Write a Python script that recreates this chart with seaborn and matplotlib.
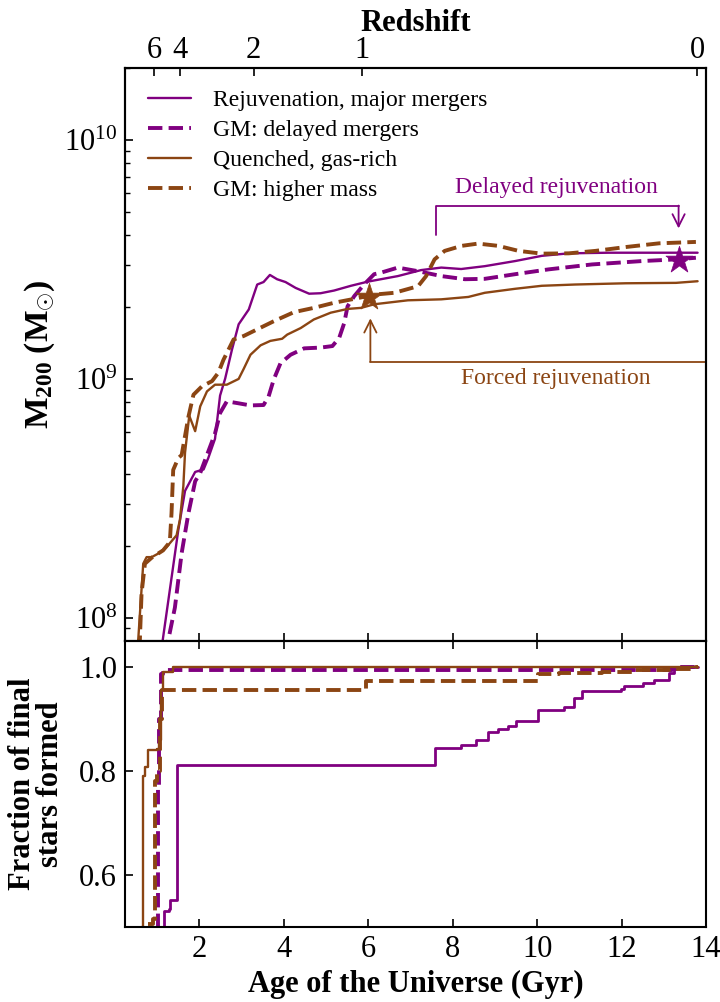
import numpy as np
import pandas as pd
import matplotlib
matplotlib.use("Agg")
import matplotlib.pyplot as plt
import seaborn as sns

# ---------------- data ----------------
PURPLE = "#800080"
BROWN = "#8B4513"

# top panel: halo mass histories  (age in Gyr, M200 in Msun)
rej_age = [1.10, 1.13, 1.50, 1.66, 1.90, 2.10, 2.21, 2.37, 2.49, 2.61, 2.77, 2.93, 3.17, 3.37,
           3.52, 3.67, 3.84, 4.04, 4.28, 4.60, 4.87, 5.19, 5.59, 5.99, 6.30, 6.70, 7.25, 7.73,
           8.20, 8.76, 9.48, 10.11, 10.75, 11.70, 13.29, 13.80]
rej_mass = [6.0e7, 8.0e7, 2.32e8, 3.39e8, 4.07e8, 4.17e8, 4.65e8, 5.6e8, 8.5e8, 1.0e9, 1.32e9,
            1.69e9, 1.95e9, 2.48e9, 2.54e9, 2.72e9, 2.61e9, 2.54e9, 2.40e9, 2.27e9, 2.28e9,
            2.34e9, 2.45e9, 2.55e9, 2.61e9, 2.69e9, 2.85e9, 2.92e9, 2.88e9, 2.96e9, 3.11e9,
            3.27e9, 3.35e9, 3.37e9, 3.37e9, 3.37e9]

gmd_age = [1.24, 1.26, 1.42, 1.58, 1.74, 1.90, 2.02, 2.37, 2.49, 2.65, 2.89, 3.21, 3.52, 3.64,
           3.76, 3.92, 4.16, 4.48, 4.87, 5.15, 5.31, 5.43, 5.51, 5.67, 5.90, 6.14, 6.30, 6.70,
           7.18, 7.73, 8.29, 8.76, 9.48, 10.27, 11.30, 12.49, 13.29, 13.76]
gmd_mass = [7.0e7, 8.0e7, 1.1e8, 1.86e8, 2.73e8, 3.72e8, 4.03e8, 5.89e8, 7.18e8, 8.04e8, 7.91e8,
            7.73e8, 7.76e8, 8.43e8, 9.91e8, 1.16e9, 1.26e9, 1.34e9, 1.35e9, 1.37e9, 1.48e9,
            1.71e9, 2.01e9, 2.22e9, 2.48e9, 2.74e9, 2.78e9, 2.92e9, 2.82e9, 2.69e9, 2.61e9,
            2.62e9, 2.74e9, 2.87e9, 3.01e9, 3.11e9, 3.16e9, 3.21e9]

que_age = [0.53, 0.55, 0.67, 0.75, 0.87, 1.02, 1.22, 1.46, 1.54, 1.62, 1.66, 1.76, 1.90, 2.02,
           2.18, 2.37, 2.65, 2.93, 3.05, 3.21, 3.45, 3.68, 3.96, 4.08, 4.40, 4.71, 5.11, 5.51,
           5.83, 6.14, 6.94, 7.73, 8.37, 8.76, 9.48, 10.11, 10.90, 12.10, 13.29, 13.80]
que_mass = [6.0e7, 8.0e7, 1.68e8, 1.79e8, 1.79e8, 1.85e8, 1.97e8, 2.21e8, 2.57e8, 3.55e8, 4.9e8,
            7.0e8, 6.03e8, 7.66e8, 8.85e8, 9.44e8, 9.44e8, 9.98e8, 1.10e9, 1.26e9, 1.38e9,
            1.44e9, 1.47e9, 1.53e9, 1.63e9, 1.77e9, 1.89e9, 1.96e9, 1.98e9, 2.05e9, 2.13e9,
            2.15e9, 2.20e9, 2.29e9, 2.38e9, 2.45e9, 2.48e9, 2.51e9, 2.52e9, 2.56e9]

gmh_age = [0.57, 0.59, 0.63, 0.71, 0.87, 1.14, 1.30, 1.34, 1.38, 1.50, 1.58, 1.70, 1.74, 1.86,
           2.06, 2.30, 2.45, 2.57, 2.81, 3.05, 3.37, 3.76, 4.24, 4.71, 5.19, 5.67, 6.14, 6.62,
           7.18, 7.37, 7.57, 7.81, 8.21, 8.60, 9.08, 9.56, 10.11, 10.75, 11.38, 12.10, 12.89,
           13.76]
gmh_mass = [6.0e7, 8.0e7, 1.26e8, 1.68e8, 1.78e8, 1.91e8, 2.07e8, 2.73e8, 4.15e8, 4.65e8, 4.79e8,
            6.31e8, 6.92e8, 8.57e8, 9.29e8, 9.77e8, 1.06e9, 1.20e9, 1.46e9, 1.51e9, 1.61e9,
            1.74e9, 1.90e9, 1.98e9, 2.08e9, 2.16e9, 2.25e9, 2.29e9, 2.44e9, 2.69e9, 3.16e9,
            3.43e9, 3.60e9, 3.68e9, 3.60e9, 3.43e9, 3.34e9, 3.35e9, 3.43e9, 3.56e9, 3.69e9,
            3.74e9]

# bottom panel: cumulative fraction of final stellar mass (step curves)
rej_sf_age = [1.12, 1.16, 1.27, 1.30, 1.48, 7.57, 8.19, 8.56, 8.84, 9.08, 9.32, 9.51, 10.03,
              10.63, 10.87, 11.07, 11.98, 12.06, 12.50, 12.77, 13.13, 13.25, 13.80]
rej_sf_frac = [0.50, 0.53, 0.535, 0.552, 0.811, 0.843, 0.849, 0.859, 0.875, 0.881, 0.886, 0.896,
               0.917, 0.922, 0.939, 0.954, 0.958, 0.963, 0.969, 0.974, 0.987, 1.0, 1.0]

gmd_sf_age = [1.00, 1.02, 1.05, 1.08, 1.14, 13.20, 13.30, 13.80]
gmd_sf_frac = [0.50, 0.77, 0.90, 0.985, 0.993, 0.996, 1.0, 1.0]

que_sf_age = [0.64, 0.66, 0.71, 0.79, 1.00, 1.04, 1.08, 1.14, 1.38, 13.80]
que_sf_frac = [0.50, 0.79, 0.808, 0.84, 0.841, 0.86, 0.955, 0.99, 1.0, 1.0]

gmh_sf_age = [0.79, 0.90, 0.95, 1.00, 1.06, 1.12, 5.95, 10.03, 10.51, 11.54, 12.33, 13.13,
              13.76, 13.80]
gmh_sf_frac = [0.505, 0.515, 0.78, 0.80, 0.90, 0.956, 0.973, 0.985, 0.987, 0.990, 0.994, 0.996,
               1.0, 1.0]

# stars marking the rejuvenation epochs
star_age = [6.02, 13.35]
star_mass = [2.2e9, 3.13e9]
star_color = [BROWN, PURPLE]

# redshift ticks of the top axis
z_ticks = [6, 4, 2, 1, 0]
z_labels = ["6", "4", "2", "1", "0"]

legend_labels = ["Rejuvenation, major mergers", "GM: delayed mergers",
                 "Quenched, gas-rich", "GM: higher mass"]


def age_of_universe(z, H0=67.7, Om=0.31):
    OL = 1.0 - Om
    h = H0 / 977.8
    return 2.0 / (3.0 * h * np.sqrt(OL)) * np.arcsinh(np.sqrt(OL / Om) * (1.0 + np.asarray(z, float)) ** -1.5)


# ---------------- style ----------------
sns.set_theme(style="ticks")
plt.rcParams.update({
    "font.family": ["Liberation Serif", "DejaVu Serif"],
    "mathtext.fontset": "custom",
    "mathtext.rm": "Liberation Serif",
    "mathtext.it": "Liberation Serif:italic",
    "mathtext.bf": "Liberation Serif:bold",
    "axes.linewidth": 1.5,
    "axes.edgecolor": "black",
    "xtick.direction": "in",
    "ytick.direction": "in",
    "xtick.color": "black",
    "ytick.color": "black",
    "text.color": "black",
    "axes.labelcolor": "black",
})

fig = plt.figure(figsize=(7.2, 10.02), dpi=100)
gs = fig.add_gridspec(2, 1, height_ratios=[2, 1], hspace=0.0,
                      left=0.1743, right=0.9806, top=0.9321, bottom=0.0749)
ax1 = fig.add_subplot(gs[0])
ax2 = fig.add_subplot(gs[1], sharex=ax1)

SOLID_LW = 1.7
DASH_LW = 2.8

series = [
    (rej_age, rej_mass, PURPLE, "-", SOLID_LW, legend_labels[0]),
    (gmd_age, gmd_mass, PURPLE, "--", DASH_LW, legend_labels[1]),
    (que_age, que_mass, BROWN, "-", SOLID_LW, legend_labels[2]),
    (gmh_age, gmh_mass, BROWN, "--", DASH_LW, legend_labels[3]),
]
for xs, ys, c, ls, lw, lab in series:
    df = pd.DataFrame({"age": xs, "mass": ys})
    sns.lineplot(data=df, x="age", y="mass", ax=ax1, color=c, linestyle=ls, linewidth=lw,
                 label=lab, estimator=None, sort=False)

frac_series = [
    (rej_sf_age, rej_sf_frac, PURPLE, "-", SOLID_LW + 0.3),
    (gmd_sf_age, gmd_sf_frac, PURPLE, "--", DASH_LW),
    (que_sf_age, que_sf_frac, BROWN, "-", SOLID_LW),
    (gmh_sf_age, gmh_sf_frac, BROWN, "--", DASH_LW),
]
for xs, ys, c, ls, lw in frac_series:
    df = pd.DataFrame({"age": xs, "frac": ys})
    sns.lineplot(data=df, x="age", y="frac", ax=ax2, color=c, linestyle=ls, linewidth=lw,
                 estimator=None, sort=False, drawstyle="steps-post", legend=False)

sdf = pd.DataFrame({"age": star_age, "mass": star_mass, "c": star_color})
for _, r in sdf.iterrows():
    sns.scatterplot(x=[r["age"]], y=[r["mass"]], ax=ax1, marker="*", s=420, color=r["c"],
                    edgecolor=r["c"], linewidth=0.5, zorder=6, legend=False)

# ---------------- axes setup ----------------
ax1.set_yscale("log")
ax1.set_ylim(8e7, 2e10)
ax1.set_xlim(0.25, 14.0)
ax2.set_ylim(0.5, 1.05)

ax1.tick_params(axis="both", which="major", labelsize=22, length=6, width=1.2, pad=6)
ax1.tick_params(axis="y", which="minor", length=3.5, width=1.0)
ax1.tick_params(axis="x", which="both", bottom=True, top=False, labelbottom=False)
ax1.tick_params(axis="y", which="both", left=True, right=False)

ax2.set_xticks([2, 4, 6, 8, 10, 12, 14])
ax2.set_yticks([0.6, 0.8, 1.0])
ax2.set_yticklabels(["0.6", "0.8", "1.0"])
ax2.minorticks_off()
ax2.tick_params(axis="both", which="major", labelsize=22, length=6, width=1.2, pad=6)
ax2.tick_params(axis="x", which="both", bottom=True, top=True, labelbottom=True)
ax2.tick_params(axis="y", which="both", left=True, right=False)
ax1.xaxis.set_minor_locator(matplotlib.ticker.NullLocator())

# top redshift axis
axz = ax1.twiny()
axz.set_xlim(ax1.get_xlim())
axz.set_xticks(age_of_universe(z_ticks))
axz.set_xticklabels(z_labels)
axz.xaxis.set_minor_locator(matplotlib.ticker.NullLocator())
axz.tick_params(axis="x", labelsize=22, length=6, width=1.2, pad=2, direction="in")
axz.set_xlabel("Redshift", fontsize=22, fontweight="bold", labelpad=4)

ax1.set_xlabel("")
ax1.set_ylabel(r"M$_{\mathbf{200}}$ (M$_{\odot}$)", fontsize=24, fontweight="bold")
ax1.yaxis.set_label_coords(-0.118, 0.5)
ax2.set_xlabel("Age of the Universe (Gyr)", fontsize=22, fontweight="bold", labelpad=4)
ax2.set_ylabel("Fraction of final\nstars formed", fontsize=22, fontweight="bold", linespacing=0.95)
ax2.yaxis.set_label_coords(-0.104, 0.5)

# legend
leg = ax1.legend(loc="upper left", bbox_to_anchor=(0.039, 0.962), borderaxespad=0, borderpad=0,
                 frameon=False, fontsize=17, handlelength=1.8, handletextpad=0.95,
                 labelspacing=0.36)

# ---------------- annotations ----------------
ax1.plot([7.61, 7.61, 13.35], [3.98e9, 5.31e9, 5.31e9], color=PURPLE, lw=1.3)
ax1.annotate("", xy=(13.35, 4.26e9), xytext=(13.35, 5.31e9),
             arrowprops=dict(arrowstyle="->", color=PURPLE, lw=1.3, mutation_scale=22,
                             shrinkA=0, shrinkB=0))
ax1.text(10.45, 6.3e9, "Delayed rejuvenation", color=PURPLE, fontsize=17,
         ha="center", va="center")

ax1.plot([14.0, 6.05], [1.18e9, 1.18e9], color=BROWN, lw=1.3, clip_on=False)
ax1.annotate("", xy=(6.05, 1.79e9), xytext=(6.05, 1.18e9),
             arrowprops=dict(arrowstyle="->", color=BROWN, lw=1.3, mutation_scale=22,
                             shrinkA=0, shrinkB=0))
ax1.text(10.45, 1.0e9, "Forced rejuvenation", color=BROWN, fontsize=17,
         ha="center", va="center")

fig.savefig("out.png", dpi=100)
